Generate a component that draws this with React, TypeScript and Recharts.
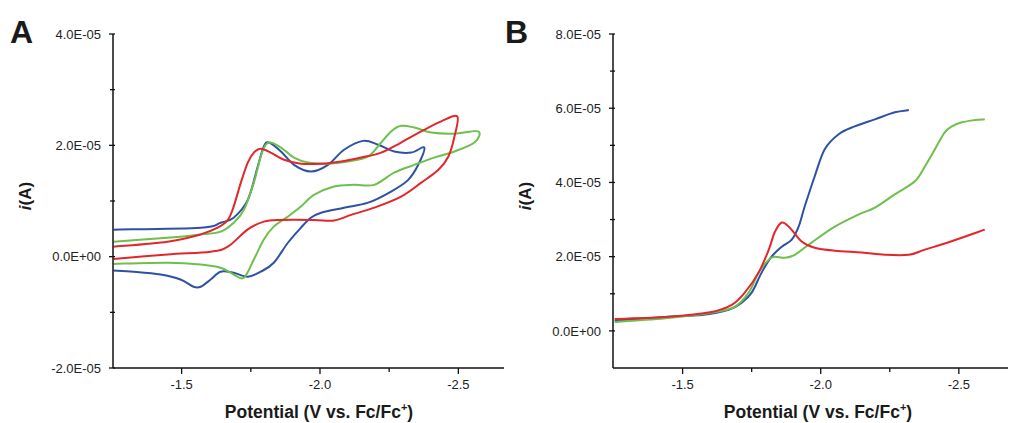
import React from 'react';
import { LineChart, Line, XAxis, YAxis } from 'recharts';

// ---------- Panel A: cyclic voltammograms (potential V, current µA) ----------
const blueA_v = [-1.254, -1.569, -1.641, -1.688, -1.739, -1.775, -1.797, -1.815, -1.859, -1.906, -1.967, -2.029, -2.087, -2.156, -2.21, -2.268, -2.33, -2.377,
  -2.355, -2.319, -2.257, -2.174, -2.087, -2.004, -1.967, -1.931, -1.884, -1.833, -1.786, -1.739, -1.688, -1.641, -1.605, -1.569, -1.543, -1.496, -1.424, -1.326, -1.254];
const blueA_i = [4.85, 5.2, 6.1, 7.0, 10.2, 16.2, 19.8, 20.5, 18.9, 16.5, 15.3, 16.5, 19.2, 20.8, 20.1, 18.9, 18.7, 19.6,
  16.5, 13.8, 11.7, 9.7, 8.8, 7.9, 7.0, 5.2, 2.5, -1.1, -2.7, -3.6, -2.9, -2.7, -4.1, -5.4, -5.4, -4.1, -3.2, -2.7, -2.5];

const greenA_v = [-1.254, -1.449, -1.569, -1.641, -1.688, -1.725, -1.761, -1.786, -1.804, -1.822, -1.859, -1.906, -1.957, -2.029, -2.101, -2.174, -2.221, -2.257, -2.293, -2.341, -2.402, -2.486, -2.572,
  -2.558, -2.486, -2.413, -2.341, -2.268, -2.196, -2.123, -2.051, -1.978, -1.931, -1.884, -1.833, -1.797, -1.761, -1.725, -1.688, -1.641, -1.569, -1.449, -1.254];
const greenA_i = [2.7, 3.4, 4.0, 4.5, 6.1, 8.4, 13.3, 18.0, 20.1, 20.5, 19.6, 17.8, 16.9, 16.7, 17.1, 18.0, 20.5, 22.5, 23.5, 23.2, 22.3, 22.1, 22.5,
  20.5, 18.9, 17.8, 16.5, 15.1, 12.9, 12.9, 12.6, 11.1, 9.0, 7.2, 5.4, 3.1, -0.5, -3.8, -3.2, -2.0, -1.4, -1.1, -1.3];

const redA_v = [-1.254, -1.449, -1.569, -1.63, -1.667, -1.688, -1.714, -1.739, -1.761, -1.786, -1.822, -1.87, -1.931, -2.004, -2.076, -2.149, -2.221, -2.293, -2.366, -2.438, -2.496,
  -2.486, -2.464, -2.428, -2.366, -2.293, -2.196, -2.112, -2.051, -1.978, -1.859, -1.797, -1.739, -1.667, -1.605, -1.449, -1.254];
const redA_i = [1.8, 2.7, 4.0, 5.2, 6.6, 9.0, 13.3, 16.9, 18.7, 19.4, 18.7, 17.4, 16.7, 16.7, 17.1, 17.8, 18.7, 20.5, 22.5, 24.3, 25.2,
  21.6, 18.0, 15.6, 13.3, 10.8, 8.8, 7.5, 6.5, 6.6, 6.6, 6.3, 4.9, 1.8, 0.9, 0.4, -0.4];

// ---------- Panel B: linear sweeps ----------
const blueB_v = [-1.254, -1.449, -1.569, -1.667, -1.714, -1.75, -1.786, -1.822, -1.859, -1.895, -1.92, -1.942, -1.978, -2.014, -2.065, -2.123, -2.196, -2.268, -2.319];
const blueB_i = [2.7, 3.8, 4.3, 5.7, 7.6, 10.3, 15.7, 20.0, 22.7, 24.6, 28.1, 33.5, 41.6, 48.9, 53.0, 55.1, 57.0, 58.9, 59.5];

const greenB_v = [-1.254, -1.449, -1.605, -1.688, -1.739, -1.775, -1.812, -1.833, -1.87, -1.906, -1.967, -2.051, -2.138, -2.196, -2.268, -2.341, -2.377, -2.413, -2.449, -2.475, -2.511, -2.558, -2.594];
const greenB_i = [2.4, 3.5, 4.9, 6.5, 10.3, 15.7, 19.2, 20.0, 19.7, 20.5, 23.8, 28.1, 31.4, 33.2, 36.8, 40.3, 44.3, 48.9, 53.5, 55.1, 56.2, 56.8, 57.0];

const redB_v = [-1.254, -1.449, -1.605, -1.678, -1.725, -1.775, -1.812, -1.833, -1.859, -1.888, -1.931, -1.978, -2.051, -2.149, -2.232, -2.319, -2.377, -2.471, -2.594];
const redB_i = [3.2, 3.8, 5.1, 7.0, 10.3, 15.7, 21.9, 26.5, 29.2, 27.8, 24.1, 22.4, 21.6, 21.1, 20.5, 20.5, 21.9, 24.1, 27.3];

// ---------- Axes ----------
const xTicks = [-1.5, -1.75, -2.0, -2.25, -2.5];
const xMajor = [-1.5, -2.0, -2.5];
const yTicksA = [-20, -10, 0, 10, 20, 30, 40];
const yMajorA = [-20, 0, 20, 40];
const yTicksB = [0, 10, 20, 30, 40, 50, 60, 70, 80];
const yMajorB = [0, 20, 40, 60, 80];
const xDomainA = [-2.665, -1.252];
const xDomainB = [-2.678, -1.248];

const BLUE = '#2d52a3';
const GREEN = '#6cc04c';
const RED = '#e2262b';
const FONT = '"Liberation Sans", Arial, Helvetica, sans-serif';
const TICK_FS = 13;
const TS = 6;
const TM = 6;

const zip = (v: number[], i: number[]) => v.map((x, k) => ({ v: x, i: i[k] }));

const fmtE = (uA: number) => {
  if (uA === 0) return '0.0E+00';
  const [m, e] = (uA * 1e-6).toExponential(1).split('e');
  const n = parseInt(e, 10);
  return `${m}E${n < 0 ? '-' : '+'}${String(Math.abs(n)).padStart(2, '0')}`;
};

// simple Catmull-Rom curve factory (parametric, handles loops)
const catmull = (context: any) => {
  let pts: number[][] = [];
  return {
    areaStart() {},
    areaEnd() {},
    lineStart() { pts = []; },
    point(x: number, y: number) { pts.push([+x, +y]); },
    lineEnd() {
      if (!pts.length) return;
      context.moveTo(pts[0][0], pts[0][1]);
      for (let k = 0; k < pts.length - 1; k++) {
        const p0 = pts[k - 1] || pts[k];
        const p1 = pts[k];
        const p2 = pts[k + 1];
        const p3 = pts[k + 2] || p2;
        context.bezierCurveTo(
          p1[0] + (p2[0] - p0[0]) / 6, p1[1] + (p2[1] - p0[1]) / 6,
          p2[0] - (p3[0] - p1[0]) / 6, p2[1] - (p3[1] - p1[1]) / 6,
          p2[0], p2[1]
        );
      }
    },
  };
};

const XTick = (props: any) => {
  const { x, y, payload } = props;
  const axisY = y - TS - TM;
  const major = xMajor.some((m) => Math.abs(m - payload.value) < 1e-6);
  return (
    <g>
      <line x1={x} x2={x} y1={axisY} y2={axisY + (major ? TS : 4)} stroke="#111" strokeWidth={1.3} />
      {major && (
        <text x={x} y={y} dy="0.71em" textAnchor="middle" fontSize={TICK_FS} fill="#222" fontFamily={FONT}>
          {payload.value.toFixed(1)}
        </text>
      )}
    </g>
  );
};

const makeYTick = (majors: number[]) => (props: any) => {
  const { x, y, payload } = props;
  const axisX = x + TS + TM + 2;
  const major = majors.includes(payload.value);
  return (
    <g>
      <line x1={axisX - (major ? TS : 5)} x2={axisX} y1={y} y2={y} stroke="#111" strokeWidth={1.3} />
      {major && (
        <text x={x} y={y} dy="0.355em" textAnchor="end" fontSize={TICK_FS} fill="#222" fontFamily={FONT}>
          {fmtE(payload.value)}
        </text>
      )}
    </g>
  );
};

const YTickA = makeYTick(yMajorA);
const YTickB = makeYTick(yMajorB);

const series = (v: number[], i: number[], color: string, name: string) => (
  <Line
    key={name}
    name={name}
    data={zip(v, i)}
    dataKey="i"
    type={catmull as any}
    stroke={color}
    strokeWidth={2}
    dot={false}
    activeDot={false}
    isAnimationActive={false}
  />
);

export default function App() {
  return (
    <div style={{ position: 'absolute', left: 0, top: 0, width: 1015, height: 423, background: '#fff', fontFamily: FONT }}>
      <div style={{ position: 'absolute', left: 0, top: 0 }}>
        <LineChart width={510} height={423} margin={{ top: 34, right: 6, bottom: 25, left: 53 }}>
          <XAxis
            type="number"
            dataKey="v"
            domain={xDomainA}
            reversed
            allowDataOverflow
            ticks={xTicks}
            interval={0}
            height={30}
            tickSize={TS}
            tickMargin={TM}
            tickLine={false}
            axisLine={{ stroke: '#111', strokeWidth: 1.5 }}
            tick={<XTick />}
          />
          <YAxis
            type="number"
            domain={[-20, 40]}
            allowDataOverflow
            ticks={yTicksA}
            interval={0}
            width={60}
            tickSize={TS}
            tickMargin={TM}
            tickLine={false}
            axisLine={{ stroke: '#111', strokeWidth: 1.5 }}
            tick={<YTickA />}
          />
          {series(blueA_v, blueA_i, BLUE, 'blueA')}
          {series(greenA_v, greenA_i, GREEN, 'greenA')}
          {series(redA_v, redA_i, RED, 'redA')}
        </LineChart>
      </div>
      <div style={{ position: 'absolute', left: 500, top: 0 }}>
        <LineChart width={515} height={423} margin={{ top: 34, right: 7, bottom: 25, left: 53 }}>
          <XAxis
            type="number"
            dataKey="v"
            domain={xDomainB}
            reversed
            allowDataOverflow
            ticks={xTicks}
            interval={0}
            height={30}
            tickSize={TS}
            tickMargin={TM}
            tickLine={false}
            axisLine={{ stroke: '#111', strokeWidth: 1.5 }}
            tick={<XTick />}
          />
          <YAxis
            type="number"
            domain={[-10, 80]}
            allowDataOverflow
            ticks={yTicksB}
            interval={0}
            width={60}
            tickSize={TS}
            tickMargin={TM}
            tickLine={false}
            axisLine={{ stroke: '#111', strokeWidth: 1.5 }}
            tick={<YTickB />}
          />
          {series(blueB_v, blueB_i, BLUE, 'blueB')}
          {series(greenB_v, greenB_i, GREEN, 'greenB')}
          {series(redB_v, redB_i, RED, 'redB')}
        </LineChart>
      </div>
      <svg width={1015} height={423} style={{ position: 'absolute', left: 0, top: 0, pointerEvents: 'none' }} fontFamily={FONT}>
        <text x={10} y={43} fontSize={32} fontWeight="bold" fill="#1a1a1a">A</text>
        <text x={505} y={43} fontSize={32} fontWeight="bold" fill="#1a1a1a">B</text>
        {[25, 525].map((cx) => (
          <text key={cx} transform={`translate(${cx + 6},196) rotate(-90)`} textAnchor="middle" fontSize={17} fontWeight="bold" fill="#1a1a1a">
            <tspan fontStyle="italic">i</tspan>(A)
          </text>
        ))}
        {[319, 818].map((cx) => (
          <text key={cx} x={cx} y={418} textAnchor="middle" fontSize={17.5} fontWeight="bold" fill="#1a1a1a">
            Potential (V vs. Fc/Fc<tspan fontSize={11} dy={-7}>+</tspan><tspan dy={7}>)</tspan>
          </text>
        ))}
      </svg>
    </div>
  );
}
